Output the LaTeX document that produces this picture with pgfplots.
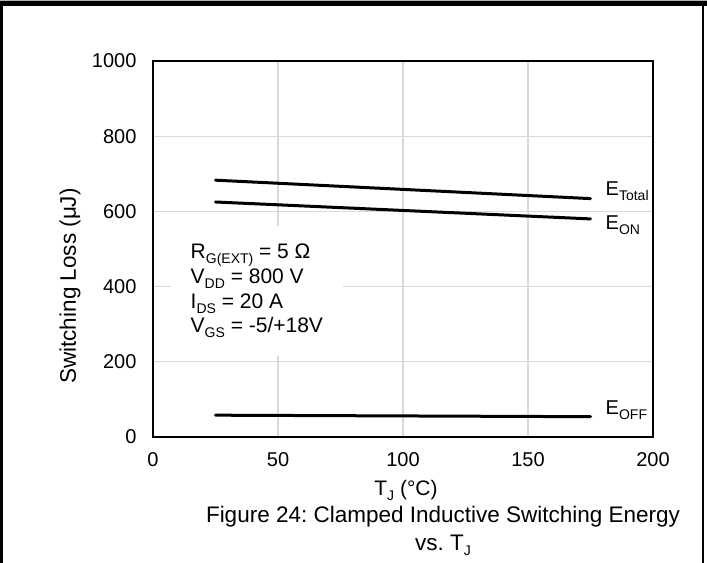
\documentclass[border=0pt]{standalone}
\usepackage{fontspec}
\setmainfont{Liberation Sans}
\usepackage{pgfplots}
\pgfplotsset{compat=1.18}
\frenchspacing
\newcommand\sub[1]{\raisebox{-5bp}{\fontsize{14bp}{14bp}\selectfont #1}}
\begin{document}
\begin{tikzpicture}[x=1bp,y=1bp]
\path[use as bounding box] (0,0) rectangle (707,563);
\draw[line width=5bp] (0,559.5) -- (707,559.5);
\draw[gray!60,line width=1bp] (0,562.5) -- (707,562.5);
\draw[line width=2.5bp] (1.25,0) -- (1.25,560);
\draw[line width=2bp] (703,0) -- (703,560);
\begin{axis}[
  at={(153bp,126bp)}, anchor=south west,
  scale only axis, width=500bp, height=376bp,
  xmin=0, xmax=200, ymin=0, ymax=1000,
  xtick={0,50,100,150,200}, ytick={0,200,400,600,800,1000},
  grid=major, grid style={draw=black!15, line width=1.2bp},
  axis line style={line width=1.6bp},
  major tick length=0pt,
  /pgf/number format/assume math mode=true,
  /pgf/number format/set thousands separator={},
  ticklabel style={font=\fontsize{20bp}{22bp}\selectfont},
  xticklabel style={yshift=-12bp},
  yticklabel style={xshift=-13bp},
  clip=false,
]
\addplot[black, line width=3bp, line cap=round] coordinates {(25,683) (175,634)};
\addplot[black, line width=3bp, line cap=round] coordinates {(25,625) (175,580)};
\addplot[black, line width=3bp, line cap=round] coordinates {(25,58) (175,54)};
\node[anchor=west, inner sep=0pt, font=\fontsize{20bp}{24bp}\selectfont] at (axis cs:181,655) {E\sub{Total}};
\node[anchor=west, inner sep=0pt, font=\fontsize{20bp}{24bp}\selectfont] at (axis cs:181,563) {E\sub{ON}};
\node[anchor=west, inner sep=0pt, font=\fontsize{20bp}{24bp}\selectfont] at (axis cs:181,70) {E\sub{OFF}};
\node[anchor=west, fill=white, align=left, inner xsep=20bp, inner ysep=18bp,
      font=\fontsize{21bp}{24.7bp}\selectfont] at (axis cs:7,388)
  {R\sub{G(EXT)} = 5 Ω\\V\sub{DD} = 800 V\\I\sub{DS} = 20 A\\V\sub{GS} = -5/+18V};
\end{axis}
\node[rotate=90, font=\fontsize{22.5bp}{24bp}\selectfont] at (70,277) {Switching Loss (μJ)};
\node[font=\fontsize{21bp}{24bp}\selectfont] at (406,73) {T\sub{J} (°C)};
\node[align=center, font=\fontsize{22.5bp}{28bp}\selectfont] at (443,32) {Figure 24: Clamped Inductive Switching Energy\\vs. T\sub{J}};
\end{tikzpicture}
\end{document}
